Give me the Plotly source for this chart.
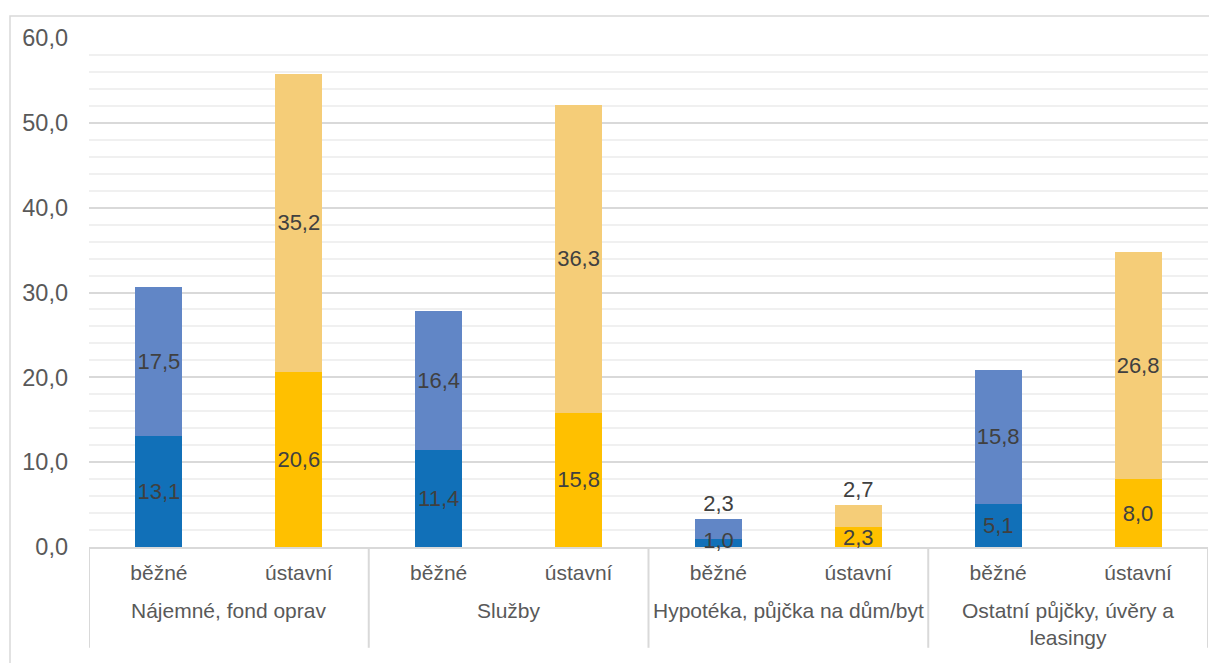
import plotly.graph_objects as go

groups = ["Nájemné, fond oprav", "Služby", "Hypotéka, půjčka na dům/byt", "Ostatní půjčky, úvěry a<br>leasingy"]
types = ["běžné", "ústavní"]
bottom_vals = [13.1, 20.6, 11.4, 15.8, 1.0, 2.3, 5.1, 8.0]
top_vals = [17.5, 35.2, 16.4, 36.3, 2.3, 2.7, 15.8, 26.8]
y_ticks = [0, 10, 20, 30, 40, 50, 60]

n_t = len(types)
x_pos = list(range(len(groups) * n_t))
x_inner = [t for _ in groups for t in types]

dark_cols = ["#1170B8" if t == "běžné" else "#FFC000" for t in x_inner]
light_cols = ["#6186C6" if t == "běžné" else "#F5CD78" for t in x_inner]

fmt = lambda v: f"{v:.1f}".replace(".", ",")
top_pos = ["outside" if v < 3 else "inside" for v in top_vals]
small = [i for i, v in enumerate(bottom_vals) if v < 2]
bottom_text = ["" if i in small else fmt(v) for i, v in enumerate(bottom_vals)]

GRID = "#D9D9D9"
LBL = dict(size=22, color="#404040")
fig = go.Figure()
fig.add_trace(go.Bar(
    x=x_pos, y=bottom_vals, marker=dict(color=dark_cols, line=dict(width=0)),
    text=bottom_text, textposition="inside", insidetextanchor="middle",
    textangle=0, constraintext="none", textfont=LBL,
    cliponaxis=False, showlegend=False,
))
fig.add_trace(go.Bar(
    x=x_pos, y=top_vals, marker=dict(color=light_cols, line=dict(width=0)),
    text=[fmt(v) for v in top_vals], textposition=top_pos, insidetextanchor="middle",
    textangle=0, constraintext="none", textfont=LBL,
    cliponaxis=False, showlegend=False,
))
# labels for bottom segments too thin to hold their text
fig.add_trace(go.Scatter(
    x=[x_pos[i] for i in small], y=[bottom_vals[i] / 2 for i in small],
    text=[fmt(bottom_vals[i]) for i in small], mode="text", textposition="middle center",
    textfont=LBL, cliponaxis=False, showlegend=False, hoverinfo="skip",
))

shapes = []
for i in range(len(groups) + 1):
    xb = i * n_t - 0.5
    shapes.append(dict(type="line", xref="x", yref="paper", x0=xb, x1=xb, y0=0, y1=-0.198,
                       line=dict(color=GRID, width=2)))
shapes.append(dict(type="rect", xref="paper", yref="paper", x0=-0.0706, x1=1.05, y0=-0.5, y1=1.0432,
                   line=dict(color=GRID, width=1.5), fillcolor="rgba(0,0,0,0)", layer="below"))

annotations = []
for i, g in enumerate(groups):
    annotations.append(dict(x=i * n_t + (n_t - 1) / 2, y=-0.098, xref="x", yref="paper",
                            text=g, showarrow=False, yanchor="top", xanchor="center",
                            font=dict(size=21, color="#595959")))

fig.update_layout(
    barmode="stack", bargap=0.664,
    width=1209, height=663,
    margin=dict(l=89, r=1, t=38, b=116),
    paper_bgcolor="white", plot_bgcolor="white",
    font=dict(family="Arial, Liberation Sans, sans-serif", color="#595959", size=21),
    separators=", ",
    yaxis=dict(range=[0, 60], tickvals=y_ticks, tickformat=".1f",
               showgrid=True, gridcolor=GRID, gridwidth=1.5,
               minor=dict(dtick=2, showgrid=True, gridcolor="#F0F0F0", gridwidth=1.5),
               tickfont=dict(size=23.5, color="#595959"), ticks="", zeroline=False,
               ticklabelstandoff=20),
    xaxis=dict(range=[-0.5, len(x_pos) - 0.5], tickvals=x_pos, ticktext=x_inner,
               showline=True, linecolor=GRID, linewidth=2, showgrid=False, zeroline=False,
               layer="below traces",
               tickfont=dict(size=21, color="#595959"), ticks="", ticklabelstandoff=6),
    shapes=shapes,
    annotations=annotations,
)

fig.write_html("out.html", config={"displayModeBar": False},
               post_script="document.body.style.margin='0';")
